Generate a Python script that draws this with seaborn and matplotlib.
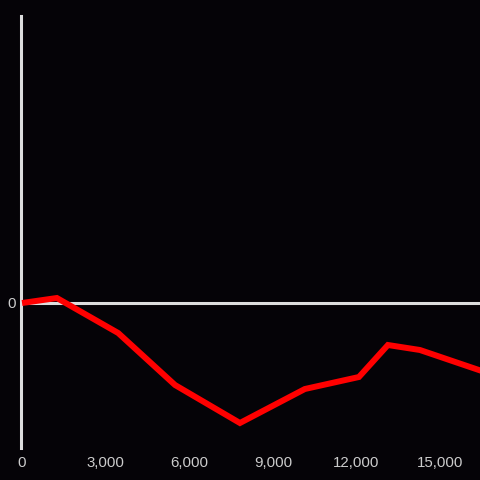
import matplotlib
matplotlib.use("Agg")
import matplotlib.pyplot as plt
import seaborn as sns
import pandas as pd
from matplotlib.ticker import FuncFormatter

x_values = [0, 1250, 3450, 5490, 7820, 10150, 12090, 13130, 14280, 16500]
y_values = [0, 5, -30, -82, -120, -86, -74, -42, -47, -68]
x_ticks = [0, 3000, 6000, 9000, 12000, 15000]
y_ticks = [0]

sns.set_theme(style="dark")
plt.rcParams['font.family'] = ['Liberation Sans', 'DejaVu Sans']

bg = '#050307'
fig = plt.figure(figsize=(4.8, 4.8), dpi=100, facecolor=bg)
ax = fig.add_axes([20.5/480, 32/480, 1 - 20.5/480, (448-16)/480])
ax.set_facecolor(bg)

df = pd.DataFrame({'x': x_values, 'y': y_values})
ax.axhline(0, color='#dddddd', lw=2.2, zorder=1)
sns.lineplot(data=df, x='x', y='y', ax=ax, color='#ff0000', lw=4.3, zorder=3,
             solid_joinstyle='miter', solid_capstyle='butt')

ax.set_xlim(-55, 16435)
ax.set_ylim(-145, 287)
ax.set_xticks(x_ticks)
ax.set_yticks(y_ticks)
ax.xaxis.set_major_formatter(FuncFormatter(lambda v, p: f"{int(v):,}"))
ax.set_xlabel('')
ax.set_ylabel('')
ax.grid(False)
for s in ['top', 'right', 'bottom']:
    ax.spines[s].set_visible(False)
ax.spines['left'].set_visible(True)
ax.spines['left'].set_color('#dddddd')
ax.spines['left'].set_linewidth(2.2)
ax.tick_params(axis='both', length=0, colors='#cccccc', labelsize=10.8)
ax.tick_params(axis='x', pad=6)
ax.tick_params(axis='y', pad=3)

fig.savefig('out.png', dpi=100, facecolor=bg)
